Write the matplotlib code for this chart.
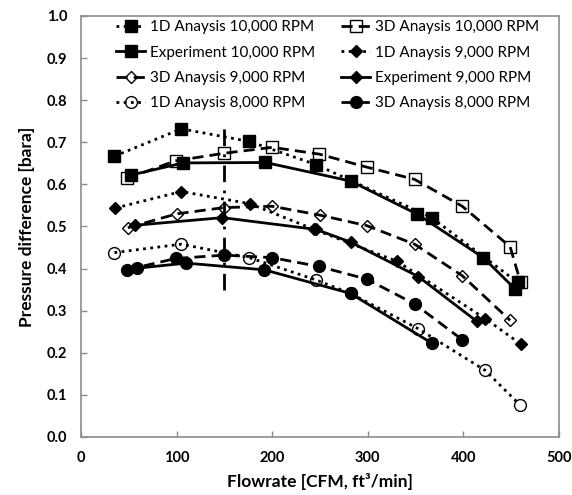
import matplotlib.pyplot as plt

plt.rcParams['font.family'] = ['Lato', 'DejaVu Sans']

# 10,000 RPM
x_1d_10k = [35, 105, 176, 246, 367, 457]
y_1d_10k = [0.667, 0.732, 0.702, 0.647, 0.521, 0.367]
x_3d_10k = [48, 99, 150, 200, 249, 299, 349, 399, 449, 460]
y_3d_10k = [0.614, 0.656, 0.674, 0.688, 0.672, 0.641, 0.612, 0.548, 0.452, 0.367]
x_exp_10k = [52, 107, 193, 282, 352, 421, 454]
y_exp_10k = [0.622, 0.651, 0.652, 0.608, 0.529, 0.426, 0.352]

# 9,000 RPM
x_1d_9k = [36, 105, 177, 244, 331, 423, 460]
y_1d_9k = [0.544, 0.583, 0.554, 0.493, 0.417, 0.281, 0.221]
x_3d_9k = [49, 100, 150, 200, 250, 299, 349, 399, 449]
y_3d_9k = [0.497, 0.530, 0.545, 0.548, 0.527, 0.502, 0.458, 0.383, 0.277]
x_exp_9k = [57, 148, 246, 282, 353, 414]
y_exp_9k = [0.503, 0.521, 0.493, 0.463, 0.381, 0.275]

# 8,000 RPM
x_1d_8k = [35, 105, 176, 246, 282, 353, 423, 459]
y_1d_8k = [0.438, 0.458, 0.426, 0.373, 0.341, 0.257, 0.158, 0.077]
x_3d_8k = [48, 99, 150, 200, 249, 299, 349, 399]
y_3d_8k = [0.397, 0.424, 0.432, 0.426, 0.405, 0.375, 0.316, 0.231]
x_exp_8k = [59, 110, 192, 282, 367]
y_exp_8k = [0.401, 0.413, 0.397, 0.341, 0.223]

# vertical reference line
x_ref = [150, 150]
y_ref = [0.35, 0.75]

fig = plt.figure(figsize=(5.72, 4.95), dpi=100)
ax = fig.add_axes([0.1416, 0.1172, 0.8354, 0.8505])

dot = (0, (1, 1.6))
dash = (0, (4, 2.2))
k = 'black'

ax.plot(x_ref, y_ref, color=k, lw=2, ls=(0, (6, 3, 1, 3)), zorder=1)

h1, = ax.plot(x_1d_10k, y_1d_10k, color=k, ls=dot, lw=2, marker='s', ms=8.5, mfc=k, mec=k, label='1D Anaysis 10,000 RPM')
h2, = ax.plot(x_3d_10k, y_3d_10k, color=k, ls=dash, lw=2, marker='s', ms=8.5, mfc='none', mec=k, mew=1, label='3D Anaysis 10,000 RPM')
h3, = ax.plot(x_exp_10k, y_exp_10k, color=k, ls='-', lw=2, marker='s', ms=8.5, mfc=k, mec=k, label='Experiment 10,000 RPM')
h4, = ax.plot(x_1d_9k, y_1d_9k, color=k, ls=dot, lw=2, marker='D', ms=6.5, mfc=k, mec=k, label='1D Anaysis 9,000 RPM')
h5, = ax.plot(x_3d_9k, y_3d_9k, color=k, ls=dash, lw=2, marker='D', ms=6.5, mfc='none', mec=k, mew=1, label='3D Anaysis 9,000 RPM')
h6, = ax.plot(x_exp_9k, y_exp_9k, color=k, ls='-', lw=2, marker='D', ms=6.5, mfc=k, mec=k, label='Experiment 9,000 RPM')
h7, = ax.plot(x_1d_8k, y_1d_8k, color=k, ls=dot, lw=2, marker='o', ms=8.5, mfc='none', mec=k, mew=1, label='1D Anaysis 8,000 RPM')
h8, = ax.plot(x_3d_8k, y_3d_8k, color=k, ls=dash, lw=2, marker='o', ms=8.5, mfc=k, mec=k, label='3D Anaysis 8,000 RPM')
ax.plot(x_exp_8k, y_exp_8k, color=k, ls='-', lw=2, marker='o', ms=8.5, mfc=k, mec=k)

ax.set_xlim(0, 500)
ax.set_ylim(0, 1.0)
ax.set_xticks([0, 100, 200, 300, 400, 500])
ax.set_yticks([i / 10 for i in range(11)])
ax.set_yticklabels([f'{i / 10:.1f}' for i in range(11)])

for s in ax.spines.values():
    s.set_color('#8c8c8c')
    s.set_linewidth(1.2)
ax.tick_params(direction='in', color='#8c8c8c', length=4, width=1, labelsize=10.5, pad=10)
for lab in ax.get_xticklabels() + ax.get_yticklabels():
    lab.set_fontweight('bold')

ax.set_xlabel('Flowrate [CFM, ft³/min]', fontsize=12.5, fontweight='bold', labelpad=6)
ax.set_ylabel('Pressure difference [bara]', fontsize=12.5, fontweight='bold', labelpad=8)

# legend reads row by row in the original
order = [h1, h3, h5, h7, h2, h4, h6, h8]
ax.legend(handles=order, ncol=2, frameon=False, loc='upper left', bbox_to_anchor=(0.055, 1.012),
          fontsize=11, handlelength=1.9, handletextpad=0.3, columnspacing=1.7,
          labelspacing=0.75, borderaxespad=0.2)

fig.savefig('out.png', dpi=100)
